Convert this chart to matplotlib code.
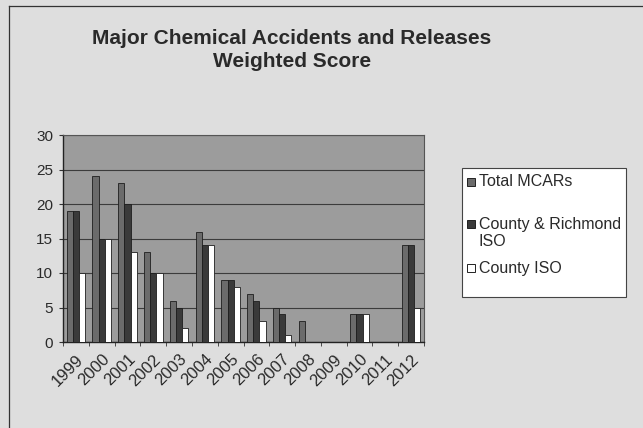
import numpy as np
import matplotlib
matplotlib.use("Agg")
import matplotlib.pyplot as plt
from matplotlib.patches import Rectangle

plt.rcParams["font.family"] = ["Liberation Sans", "DejaVu Sans"]

years = ["1999", "2000", "2001", "2002", "2003", "2004", "2005",
         "2006", "2007", "2008", "2009", "2010", "2011", "2012"]
total_mcars = [19, 24, 23, 13, 6, 16, 9, 7, 5, 3, 0, 4, 0, 14]
county_richmond_iso = [19, 15, 20, 10, 5, 14, 9, 6, 4, 0, 0, 4, 0, 14]
county_iso = [10, 15, 13, 10, 2, 14, 8, 3, 1, 0, 0, 4, 0, 5]

series = [
    ("Total MCARs", total_mcars, "#6b6b6b"),
    ("County & Richmond\nISO", county_richmond_iso, "#3a3a3a"),
    ("County ISO", county_iso, "white"),
]

fig = plt.figure(figsize=(6.43, 4.28), dpi=100)
fig.patch.set_facecolor("#dedede")

# thin frame of the chart area (left and top edges visible)
fig.add_artist(plt.Line2D([9 / 643, 9 / 643], [0, 1 - 6 / 428],
                          transform=fig.transFigure, color="#333", lw=0.9))
fig.add_artist(plt.Line2D([9 / 643, 1], [1 - 6 / 428, 1 - 6 / 428],
                          transform=fig.transFigure, color="#333", lw=0.9))

ax = fig.add_axes([63 / 643, 1 - 342 / 428, (424 - 63) / 643, (342 - 135) / 428])
ax.set_facecolor("#9c9c9c")

x = np.arange(len(years))
w = 0.24
for i, (name, vals, col) in enumerate(series):
    ax.bar(x + (i - 1) * w, vals, width=w, color=col,
           edgecolor="#1e1e1e", linewidth=0.6, zorder=3)

ax.set_xlim(-0.5, len(years) - 0.5)
ax.set_ylim(0, 30)
ax.set_yticks(range(0, 31, 5))
ax.yaxis.grid(True, color="#3c3c3c", linewidth=0.8, zorder=1)
ax.set_axisbelow(True)

ax.set_xticks(x)
ax.set_xticklabels(years, rotation=45, ha="right", va="top",
                   rotation_mode="anchor", fontsize=12, color="#2a2a2a")
ax.set_xticks(np.arange(-0.5, len(years), 1), minor=True)
ax.tick_params(axis="x", which="major", length=0, pad=7)
ax.tick_params(axis="x", which="minor", length=3, color="#333")
ax.tick_params(axis="y", length=3, pad=4, labelsize=11, labelcolor="#2a2a2a",
               color="#333")

for side in ["top", "right"]:
    ax.spines[side].set_color("#555")
    ax.spines[side].set_linewidth(0.8)
for side in ["left", "bottom"]:
    ax.spines[side].set_color("#222")
    ax.spines[side].set_linewidth(1.0)

fig.text(292 / 643, 1 - 50 / 428,
         "Major Chemical Accidents and Releases\nWeighted Score",
         ha="center", va="center", fontsize=15, fontweight="bold",
         color="#2a2a2a", linespacing=1.3)

# legend drawn by hand to keep the uneven spacing of the original
fig.add_artist(Rectangle((462 / 643, 1 - 297 / 428), (626 - 462) / 643,
                         (297 - 168) / 428, transform=fig.transFigure,
                         facecolor="white", edgecolor="#444", linewidth=0.8))
legend_y = [182, 233, 268]
marker_y = [182, 224, 268]
for (name, vals, col), ly, my in zip(series, legend_y, marker_y):
    fig.add_artist(Rectangle((467 / 643, 1 - (my + 4) / 428), 8 / 643, 8 / 428,
                             transform=fig.transFigure, facecolor=col,
                             edgecolor="#222", linewidth=0.7))
    fig.text(479 / 643, 1 - ly / 428, name, ha="left", va="center",
             fontsize=11.5, color="#2a2a2a", linespacing=1.15)

fig.savefig("out.png", dpi=100, facecolor=fig.get_facecolor())
